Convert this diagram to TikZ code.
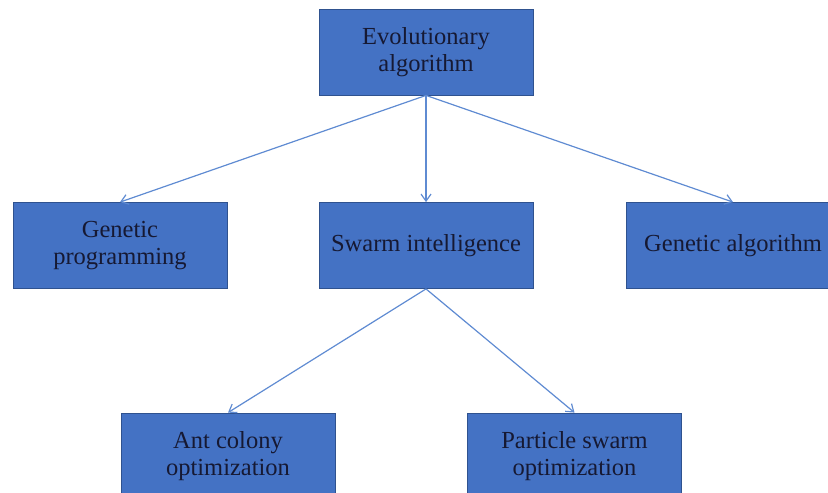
\documentclass[tikz,border=0pt]{standalone}
\usepackage{fontspec}
\setmainfont{Liberation Serif}
\usepackage{tikz}
\usetikzlibrary{arrows.meta}
\definecolor{boxblue}{HTML}{4472C4}
\definecolor{boxedge}{HTML}{2F528F}
\definecolor{linkblue}{HTML}{5F8BD2}
\definecolor{textnavy}{HTML}{161933}

\begin{document}
\begin{tikzpicture}[x=1pt, y=-1pt,
    box/.style={draw=boxedge, line width=0.8pt, fill=boxblue, text=textnavy,
        minimum width=214pt, minimum height=86pt, align=center,
        font=\fontsize{24.5}{27.5}\selectfont},
    link/.style={draw=linkblue, line width=1.2pt, -{Straight Barb[length=7pt, width=10pt]}}]
    \useasboundingbox (0,0) rectangle (828,493);
    \clip (0,0) rectangle (828,493);
    % Top
    \node [box] (evo) at (426,52) {Evolutionary\\algorithm};
    % Middle row
    \node [box] (gp) at (120,245.5) {Genetic\\programming};
    \node [box] (swarm) at (426,245.5) {Swarm intelligence};
    \node [box] (ga) at (733,245.5) {Genetic algorithm};
    % Bottom row
    \node [box] (aco) at (228,456) {Ant colony\\optimization};
    \node [box] (pso) at (574.5,456) {Particle swarm\\optimization};
    % Links
    \draw [link] (evo.south) -- (gp.north);
    \draw [link] (evo.south) -- (swarm.north);
    \draw [link] (evo.south) -- (ga.north);
    \draw [link] (swarm.south) -- (aco.north);
    \draw [link] (swarm.south) -- (pso.north);
\end{tikzpicture}
\end{document}
